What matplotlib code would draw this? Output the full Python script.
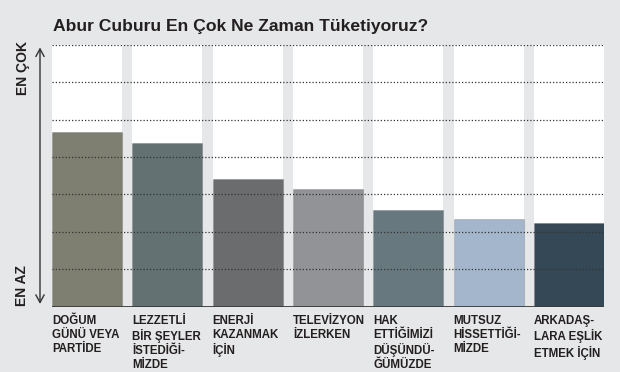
import matplotlib.pyplot as plt

# data
categories = ["DOĞUM\nGÜNÜ VEYA\nPARTİDE",
              "LEZZETLİ\nBİR ŞEYLER\nİSTEDİĞİ-\nMİZDE",
              "ENERJİ\nKAZANMAK\nİÇİN",
              "TELEVİZYON\nİZLERKEN",
              "HAK\nETTİĞİMİZİ\nDÜŞÜNDÜ-\nĞÜMÜZDE",
              "MUTSUZ\nHİSSETTİĞİ-\nMİZDE",
              "ARKADAŞ-\nLARA EŞLİK\nETMEK İÇİN"]
values = [4.67, 4.38, 3.41, 3.15, 2.58, 2.35, 2.24]
bar_colors = ["#7e7f70", "#637172", "#6b6c6e", "#929397", "#68787f", "#a3b6cb", "#354855"]
scale_max = 7

bg = "#e6e7e8"
ink = "#231f20"
font = ["Liberation Sans", "DejaVu Sans"]

W, H = 620, 372
fig = plt.figure(figsize=(W / 100, H / 100), dpi=100, facecolor=bg)

left, right, bottom, top = 52, 604, 306.7, 44.7
ax = fig.add_axes([left / W, 1 - bottom / H, (right - left) / W, (bottom - top) / H])
ax.set_facecolor("none")

w = 0.871
x = list(range(len(values)))
ax.bar(x, [scale_max] * len(x), width=w, color="white", zorder=1)
ax.bar(x, values, width=w, color=bar_colors, edgecolor="#00000022", linewidth=0.8, zorder=2)

for k in range(1, scale_max + 1):
    ax.axhline(k, color="#333333", lw=0.9, linestyle=(0, (1, 1.6)), zorder=3)
ax.axhline(0, color="#3a3a3a", lw=2, zorder=4)

ax.set_xlim(-w / 2, len(x) - 1 + w / 2)
ax.set_ylim(0, scale_max)
ax.set_xticks([])
ax.set_yticks([])
for s in ax.spines.values():
    s.set_visible(False)

# category labels under each slot
for i, lab in enumerate(categories):
    ax.text(i - w / 2, -0.22, lab, ha="left", va="top", fontsize=8.3,
            fontweight="bold", family=font, color=ink, linespacing=1.22)

# left scale arrow
ax_x = (40 - left) / (right - left)
ax.annotate("", xy=(ax_x, 0), xytext=(ax_x, 1), xycoords="axes fraction",
            arrowprops=dict(arrowstyle="<->,head_length=0.55,head_width=0.3",
                            color="#333333", lw=1), annotation_clip=False)
fig.text(22.5 / W, 1 - 68 / H, "EN ÇOK", rotation=90, ha="center", va="center",
         fontsize=10, fontweight="bold", family=font, color=ink)
fig.text(22.5 / W, 1 - 286 / H, "EN AZ", rotation=90, ha="center", va="center",
         fontsize=10, fontweight="bold", family=font, color=ink)

fig.text(53 / W, 1 - 31 / H, "Abur Cuburu En Çok Ne Zaman Tüketiyoruz?", ha="left",
         va="baseline", fontsize=12.6, fontweight="bold", family=font, color=ink)

fig.savefig("out.png", dpi=100, facecolor=bg)
